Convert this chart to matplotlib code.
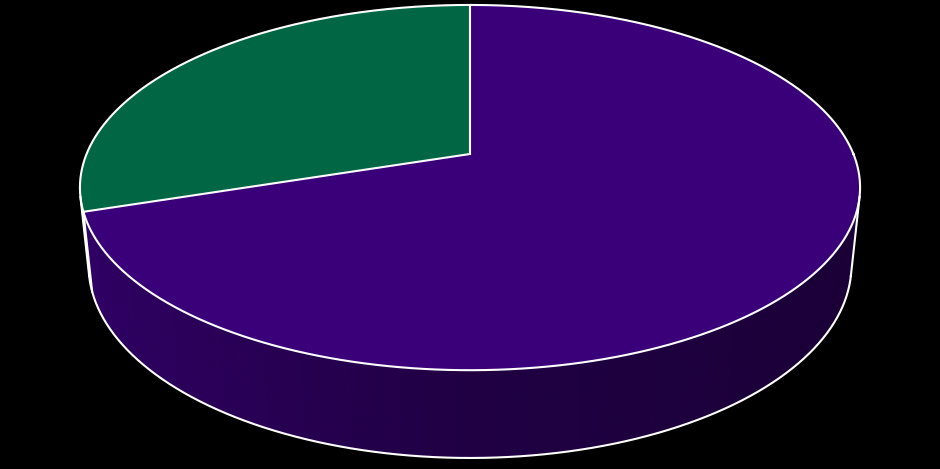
import numpy as np
import matplotlib
matplotlib.use('Agg')
import matplotlib.pyplot as plt
from matplotlib.patches import Polygon

labels = ['Series A', 'Series B']
values = [70, 30]
colors = [(58, 0, 122), (0, 102, 68)]

# camera / layout
phi = np.radians(27.4)
dist = 4.83
focal = 1852
cx, cy = 470, 154
thick = 0.23
start = 90.0


def proj(x, y, z):
    d = dist + y * np.cos(phi) - z * np.sin(phi)
    return cx + focal * x / d, cy - focal * (y * np.sin(phi) + z * np.cos(phi)) / d


def rim(t, z):
    t = np.radians(t)
    return proj(np.cos(t), np.sin(t), z)


fig = plt.figure(figsize=(9.4, 4.69), dpi=100, facecolor='black')
ax = fig.add_axes([0, 0, 1, 1])
ax.set_xlim(0, 940)
ax.set_ylim(469, 0)
ax.set_facecolor('black')
ax.axis('off')

# slice angles, clockwise from 12 o'clock
total = sum(values)
bounds = []
a0 = start
for v in values:
    a1 = a0 - 360.0 * v / total
    bounds.append((a1, a0))
    a0 = a1

# visible part of the side wall
s = np.degrees(np.arcsin(1.0 / (dist * np.cos(phi))))
vis_lo, vis_hi = 180 + s, 360 - s


def shade(t):
    c = np.cos(np.radians(t))
    return 0.55 - 0.3 * c if c < 0 else 0.55 - 0.1 * c


for (lo, hi), col in zip(bounds, colors):
    base = np.array(col) / 255.0
    for sh in (-360, 0, 360):
        a, b = max(lo + sh, vis_lo), min(hi + sh, vis_hi)
        if b <= a:
            continue
        ts = np.linspace(a, b, max(int((b - a) * 2), 2))
        for t1, t2 in zip(ts[:-1], ts[1:]):
            x1, y1 = rim(t1, 0)
            x2, y2 = rim(t2, 0)
            x3, y3 = rim(t2, -thick)
            x4, y4 = rim(t1, -thick)
            fc = base * shade((t1 + t2) / 2)
            ax.add_patch(Polygon([(x1, y1), (x2, y2), (x3, y3), (x4, y4)],
                                 closed=True, facecolor=fc, edgecolor=fc, lw=0.6))

# top faces
ox, oy = proj(0, 0, 0)
for (lo, hi), col in zip(bounds, colors):
    ts = np.linspace(lo, hi, 300)
    xs, ys = rim(ts, 0)
    pts = [(ox, oy)] + list(zip(xs, ys))
    ax.add_patch(Polygon(pts, closed=True, facecolor=np.array(col) / 255.0,
                         edgecolor='none'))

# outlines
lw = 1.5
ts = np.linspace(0, 360, 720)
xs, ys = rim(ts, 0)
ax.plot(xs, ys, color='white', lw=lw)
ts = np.linspace(vis_lo, vis_hi, 400)
xs, ys = rim(ts, -thick)
ax.plot(xs, ys, color='white', lw=lw)
for t in (vis_lo, vis_hi):
    xa, ya = rim(t, 0)
    xb, yb = rim(t, -thick)
    ax.plot([xa, xb], [ya, yb], color='white', lw=lw)
for lo, hi in bounds:
    xa, ya = rim(hi, 0)
    ax.plot([ox, xa], [oy, ya], color='white', lw=lw)
    tt = lo % 360
    if vis_lo <= tt <= vis_hi:
        xa, ya = rim(tt, 0)
        xb, yb = rim(tt, -thick)
        ax.plot([xa, xb], [ya, yb], color='white', lw=lw)

fig.savefig('out.png', dpi=100, facecolor='black')
